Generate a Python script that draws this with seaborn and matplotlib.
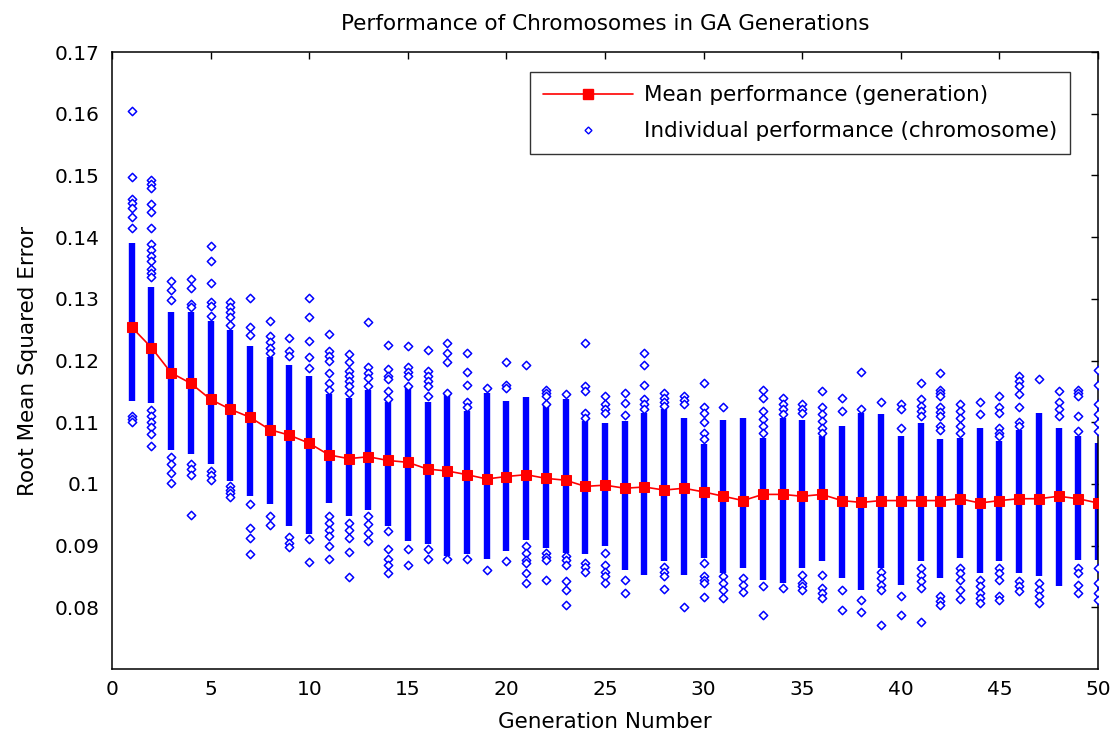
import matplotlib
matplotlib.use("Agg")
import matplotlib.pyplot as plt
import pandas as pd
import seaborn as sns
from matplotlib.lines import Line2D

# ── data ───────────────────────────────────────────────────────────────────
generation = list(range(1, 51))

mean_rmse = [0.1254, 0.1221, 0.1180, 0.1163, 0.1137, 0.1121, 0.1108, 0.1088, 0.1079, 0.1066,
             0.1047, 0.1041, 0.1044, 0.1038, 0.1035, 0.1024, 0.1021, 0.1015, 0.1008, 0.1012,
             0.1015, 0.1009, 0.1006, 0.0996, 0.0998, 0.0993, 0.0995, 0.0990, 0.0993, 0.0987,
             0.0980, 0.0973, 0.0983, 0.0983, 0.0980, 0.0983, 0.0973, 0.0970, 0.0973, 0.0973,
             0.0973, 0.0973, 0.0976, 0.0969, 0.0973, 0.0976, 0.0976, 0.0980, 0.0976, 0.0969]

# solid part of each generation's column (many overlapping chromosomes)
dense_top = [0.1390, 0.1320, 0.1278, 0.1278, 0.1264, 0.1250, 0.1224, 0.1205, 0.1192, 0.1175,
             0.1145, 0.1140, 0.1153, 0.1132, 0.1156, 0.1132, 0.1145, 0.1118, 0.1148, 0.1134,
             0.1141, 0.1126, 0.1137, 0.1102, 0.1099, 0.1102, 0.1115, 0.1121, 0.1107, 0.1064,
             0.1104, 0.1107, 0.1075, 0.1107, 0.1104, 0.1078, 0.1094, 0.1115, 0.1113, 0.1078,
             0.1099, 0.1072, 0.1075, 0.1091, 0.1069, 0.1088, 0.1115, 0.1091, 0.1078, 0.1067]
dense_bottom = [0.1135, 0.1131, 0.1055, 0.1049, 0.1032, 0.1004, 0.0981, 0.0967, 0.0931, 0.0919,
                0.0969, 0.0948, 0.0958, 0.0931, 0.0908, 0.0902, 0.0883, 0.0886, 0.0878, 0.0891,
                0.0909, 0.0896, 0.0888, 0.0886, 0.0899, 0.0861, 0.0853, 0.0875, 0.0853, 0.0880,
                0.0855, 0.0863, 0.0845, 0.0839, 0.0863, 0.0875, 0.0847, 0.0828, 0.0863, 0.0836,
                0.0875, 0.0848, 0.0880, 0.0855, 0.0875, 0.0855, 0.0850, 0.0834, 0.0877, 0.0877]

# isolated chromosomes above / below the solid part
sparse_points = [
    [0.1604, 0.1498, 0.1462, 0.1455, 0.1448, 0.1433, 0.1415, 0.1110, 0.1105, 0.1100],
    [0.1493, 0.1486, 0.1479, 0.1453, 0.1440, 0.1415, 0.1389, 0.1380, 0.1370, 0.1362, 0.1348,
     0.1342, 0.1335, 0.1120, 0.1110, 0.1100, 0.1093, 0.1081, 0.1062],
    [0.1329, 0.1315, 0.1298, 0.1044, 0.1033, 0.1018, 0.1001],
    [0.1332, 0.1318, 0.1292, 0.1286, 0.1032, 0.1024, 0.1015, 0.0949],
    [0.1385, 0.1362, 0.1326, 0.1295, 0.1289, 0.1272, 0.1021, 0.1015, 0.1007],
    [0.1295, 0.1286, 0.1278, 0.1270, 0.1258, 0.0996, 0.0990, 0.0985, 0.0979],
    [0.1301, 0.1255, 0.1241, 0.0967, 0.0928, 0.0912, 0.0886],
    [0.1264, 0.1239, 0.1230, 0.1221, 0.1213, 0.0948, 0.0934],
    [0.1236, 0.1216, 0.1208, 0.0914, 0.0905, 0.0898],
    [0.1301, 0.1271, 0.1231, 0.1206, 0.1188, 0.0911, 0.0874],
    [0.1243, 0.1215, 0.1207, 0.1199, 0.1180, 0.1164, 0.1153, 0.0948, 0.0937, 0.0926, 0.0915,
     0.0899, 0.0879],
    [0.1211, 0.1198, 0.1183, 0.1175, 0.1167, 0.1159, 0.1148, 0.0937, 0.0925, 0.0913, 0.0889,
     0.0849],
    [0.1263, 0.1189, 0.1180, 0.1172, 0.1159, 0.0948, 0.0935, 0.0921, 0.0908],
    [0.1225, 0.1186, 0.1175, 0.1170, 0.1151, 0.1138, 0.0924, 0.0895, 0.0879, 0.0868, 0.0856],
    [0.1224, 0.1189, 0.1182, 0.1175, 0.1159, 0.0895, 0.0868],
    [0.1217, 0.1183, 0.1175, 0.1167, 0.1159, 0.1143, 0.0895, 0.0879],
    [0.1228, 0.1213, 0.1198, 0.1148, 0.0879],
    [0.1213, 0.1181, 0.1161, 0.1132, 0.1124, 0.0879],
    [0.1156, 0.0860],
    [0.1198, 0.1161, 0.1156, 0.0875],
    [0.1193, 0.0899, 0.0888, 0.0877, 0.0872, 0.0855, 0.0839],
    [0.1153, 0.1147, 0.1142, 0.1129, 0.0888, 0.0882, 0.0877, 0.0845],
    [0.1145, 0.0883, 0.0876, 0.0869, 0.0842, 0.0828, 0.0804],
    [0.1229, 0.1159, 0.1150, 0.1115, 0.1107, 0.0872, 0.0865, 0.0858],
    [0.1143, 0.1129, 0.1122, 0.1115, 0.0888, 0.0869, 0.0858, 0.0850, 0.0839],
    [0.1148, 0.1131, 0.1111, 0.0845, 0.0823],
    [0.1213, 0.1193, 0.1161, 0.1137, 0.1129, 0.1121],
    [0.1147, 0.1140, 0.1133, 0.1126, 0.0866, 0.0858, 0.0850, 0.0830],
    [0.1143, 0.1136, 0.1129, 0.0800],
    [0.1164, 0.1124, 0.1115, 0.1100, 0.1083, 0.1072, 0.0872, 0.0850, 0.0845, 0.0839, 0.0816],
    [0.1124, 0.0850, 0.0839, 0.0828, 0.0815],
    [0.0847, 0.0836, 0.0825],
    [0.1153, 0.1140, 0.1118, 0.1105, 0.1094, 0.1083, 0.0834, 0.0788],
    [0.1140, 0.1130, 0.1121, 0.1113, 0.0831],
    [0.1130, 0.1122, 0.1115, 0.0853, 0.0839, 0.0834, 0.0828],
    [0.1150, 0.1124, 0.1113, 0.1102, 0.1091, 0.1083, 0.0853, 0.0831, 0.0823, 0.0815],
    [0.1140, 0.1118, 0.0828, 0.0796],
    [0.1181, 0.1121, 0.0812, 0.0793],
    [0.1132, 0.0858, 0.0847, 0.0836, 0.0828, 0.0771],
    [0.1129, 0.1121, 0.1091, 0.0818, 0.0788],
    [0.1164, 0.1137, 0.1126, 0.1118, 0.1110, 0.0864, 0.0853, 0.0842, 0.0831, 0.0776],
    [0.1180, 0.1153, 0.1147, 0.1142, 0.1124, 0.1117, 0.1110, 0.1094, 0.1088, 0.0818, 0.0811,
     0.0804],
    [0.1129, 0.1118, 0.1107, 0.1094, 0.1083, 0.0864, 0.0855, 0.0845, 0.0828, 0.0813],
    [0.1132, 0.1113, 0.0845, 0.0834, 0.0823, 0.0815, 0.0807],
    [0.1143, 0.1124, 0.1115, 0.1091, 0.1083, 0.1078, 0.0864, 0.0855, 0.0845, 0.0818, 0.0812],
    [0.1175, 0.1167, 0.1159, 0.1145, 0.1124, 0.1100, 0.1094, 0.0842, 0.0834, 0.0826],
    [0.1170, 0.0839, 0.0828, 0.0818, 0.0807],
    [0.1150, 0.1132, 0.1121, 0.1110],
    [0.1153, 0.1147, 0.1142, 0.1110, 0.1086, 0.0864, 0.0855, 0.0836, 0.0823],
    [0.1185, 0.1161, 0.1129, 0.1113, 0.1099, 0.1086, 0.0864, 0.0839, 0.0823, 0.0812],
]

x_ticks = [0, 5, 10, 15, 20, 25, 30, 35, 40, 45, 50]
y_ticks = [0.08, 0.09, 0.10, 0.11, 0.12, 0.13, 0.14, 0.15, 0.16, 0.17]
y_tick_labels = ["0.08", "0.09", "0.1", "0.11", "0.12", "0.13", "0.14", "0.15", "0.16", "0.17"]

# ── build tables ────────────────────────────────────────────────────────────
means = pd.DataFrame({"gen": generation, "rmse": mean_rmse})
points = pd.DataFrame([(g, v) for g, vals in zip(generation, sparse_points) for v in vals],
                      columns=["gen", "rmse"])

sns.set_theme(style="white")
plt.rcParams["font.family"] = ["DejaVu Sans"]
plt.rcParams.update({"text.color": "black", "axes.labelcolor": "black",
                     "xtick.color": "black", "ytick.color": "black"})

BLUE = "#0000ff"
RED = "#ff0000"
TXT = 15.5

fig = plt.figure(figsize=(11.2, 7.37), dpi=100)
ax = fig.add_axes([0.1, 0.0923, 0.8804, 0.8370])

# solid columns
ax.vlines(means["gen"], dense_bottom, dense_top, colors=BLUE, linewidth=4.6, zorder=2)

# sparse chromosomes
sns.scatterplot(data=points, x="gen", y="rmse", marker="D", s=18, facecolor="white",
                edgecolor=BLUE, linewidth=1.1, ax=ax, zorder=3, legend=False)

# generation means
sns.lineplot(data=means, x="gen", y="rmse", color=RED, marker="s", markersize=7.5,
             markeredgecolor=RED, linewidth=1.2, ax=ax, zorder=4, legend=False)

ax.set_xlim(0, 50)
ax.set_ylim(0.07, 0.17)
ax.set_xticks(x_ticks)
ax.set_xticklabels([str(t) for t in x_ticks])
ax.set_yticks(y_ticks)
ax.set_yticklabels(y_tick_labels)
ax.tick_params(axis="both", direction="in", length=5, width=1, colors="black",
               labelsize=14.5, top=True, right=True)
ax.tick_params(axis="y", pad=9)
ax.tick_params(axis="x", pad=8)
for sp in ax.spines.values():
    sp.set_color("black")
    sp.set_linewidth(1.1)

ax.set_title("Performance of Chromosomes in GA Generations", fontsize=TXT, pad=16,
             color="black")
ax.set_xlabel("Generation Number", fontsize=TXT, labelpad=9)
ax.set_ylabel("Root Mean Squared Error", fontsize=TXT, labelpad=12)

handles = [
    Line2D([], [], color=RED, marker="s", markersize=6.5, linewidth=1.2),
    Line2D([], [], linestyle="none", marker="D", markersize=3.5,
           markerfacecolor="white", markeredgecolor=BLUE, markeredgewidth=1.0),
]
labels = ["Mean performance (generation)", "Individual performance (chromosome)"]
leg = ax.legend(handles, labels, loc="upper right", bbox_to_anchor=(0.9716, 0.9675),
                borderaxespad=0, fontsize=TXT, frameon=True, fancybox=False,
                handlelength=4.2, handletextpad=0.5, borderpad=0.6, labelspacing=0.75)
leg.get_frame().set_edgecolor("black")
leg.get_frame().set_linewidth(1.0)

fig.savefig("out.png", dpi=100)
